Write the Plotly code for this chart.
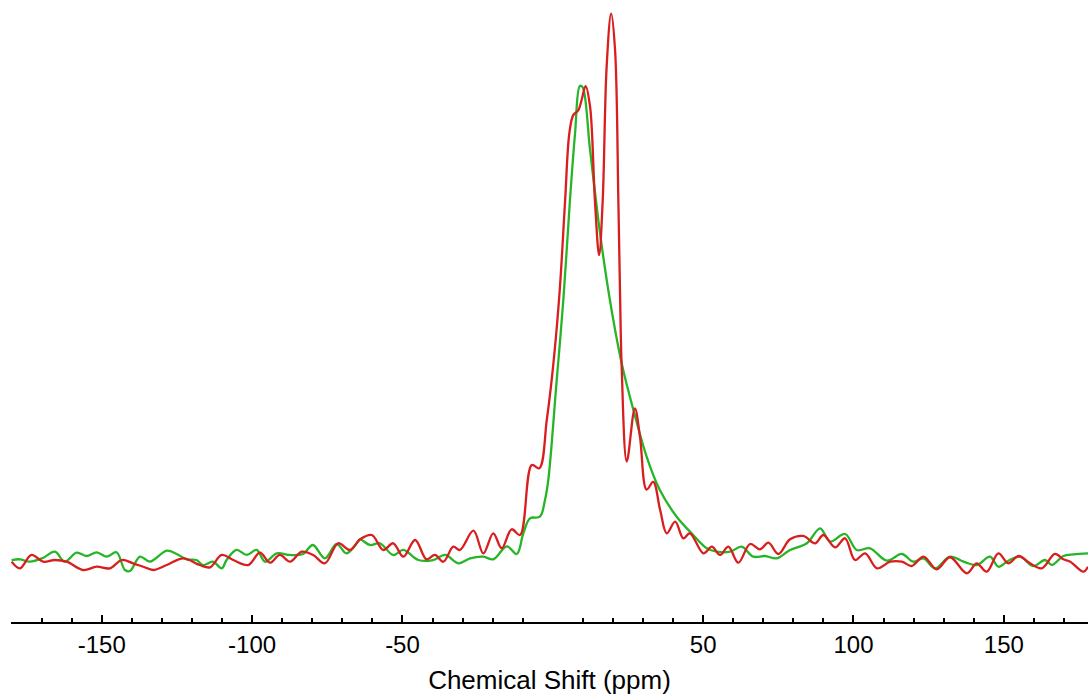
import plotly.graph_objects as go

# Green spectrum (chemical shift in ppm, intensity in arbitrary units)
ppm_green = [-180.0, -177.2, -173.9, -169.6, -165.6, -162.3, -158.4, -155.1, -151.7, -148.4,
             -145.1, -142.3, -140.6, -137.3, -134.0, -128.4, -125.1, -121.8, -118.5, -116.4,
             -113.0, -110.1, -108.5, -105.2, -101.8, -98.5, -95.7, -91.8, -87.4, -83.1,
             -79.8, -75.8, -71.9, -68.6, -64.8, -64.1, -60.8, -57.5, -53.1, -49.7,
             -44.7, -39.8, -35.8, -31.4, -27.5, -23.1, -19.8, -15.3, -12.0, -9.8,
             -7.6, -4.3, -2.6, -1.5, 1.3, 3.5, 5.7, 7.4, 9.0, 9.9,
             12.4, 15.7, 19.0, 22.9, 26.8, 31.2, 35.6, 41.2, 46.7, 51.2,
             54.5, 59.0, 62.8, 66.7, 70.6, 74.5, 78.9, 84.5, 88.9, 92.2,
             97.2, 101.1, 105.5, 111.1, 116.1, 119.9, 123.3, 127.1, 132.1, 136.6,
             141.0, 145.4, 148.2, 151.5, 155.4, 159.8, 163.7, 166.0, 169.8, 173.2, 178.0]
int_green = [0.36, 0.49, 0.05, 0.73, 1.88, 0.05, 1.69, 1.09, 1.77, 0.97,
             1.77, -1.46, -1.64, 0.97, 0.05, 2.06, 1.46, 0.49, 0.36, -0.55,
             0.05, -1.15, 0.36, 2.19, 1.28, 2.19, 0.05, 1.58, 1.28, 1.46,
             3.10, 0.67, 3.28, 1.58, 3.70, 4.13, 3.10, 3.41, 1.28, 2.19,
             0.36, 0.36, 1.28, -0.24, 0.67, 0.97, 0.49, 2.86, 1.46, 5.23,
             7.96, 8.25, 11.29, 14.94, 33.15, 47.7, 65.9, 78.1, 86.7, 86.5,
             75.0, 59.9, 47.7, 36.2, 27.7, 19.2, 13.1, 8.25, 4.92, 2.50,
             1.88, 1.88, 2.79, 0.97, 1.09, 0.67, 2.19, 3.41, 6.14, 3.70,
             5.10, 2.19, 2.50, 0.24, 1.46, 0.05, 0.67, -1.15, 0.97, 0.05,
             -0.55, 0.97, -0.86, 0.24, 0.97, -0.73, 0.36, -0.55, 1.09, 1.40, 1.58]

# Red spectrum
ppm_red = [-180.0, -177.2, -173.4, -169.5, -165.6, -161.7, -156.2, -151.7, -147.3, -143.4,
           -139.6, -136.2, -132.9, -128.4, -122.9, -117.4, -114.0, -110.1, -106.3, -101.3,
           -97.4, -94.1, -90.8, -87.4, -83.5, -79.7, -75.8, -71.4, -67.5, -64.1,
           -60.2, -56.4, -53.1, -49.7, -45.8, -42.0, -39.2, -36.4, -33.1, -30.9,
           -26.4, -23.1, -19.8, -17.0, -13.7, -10.9, -7.0, -4.5, -2.0, 0.2,
           2.3, 4.1, 5.5, 6.8, 8.5, 9.6, 10.9, 12.4, 14.0, 15.4,
           16.6, 17.9, 19.4, 20.7, 21.8, 22.4, 22.9, 24.6, 27.3, 29.0,
           31.2, 33.4, 35.7, 37.9, 40.7, 43.4, 45.6, 50.1, 52.9, 55.6,
           58.4, 61.7, 65.6, 68.9, 71.7, 75.0, 78.9, 83.3, 87.2, 90.0,
           93.9, 97.2, 100.5, 103.9, 107.8, 112.2, 116.1, 119.4, 123.3, 127.7,
           132.1, 137.7, 141.0, 144.3, 148.2, 151.5, 154.9, 158.7, 162.6, 167.0,
           169.8, 172.1, 176.5, 178.0]
int_red = [0.05, -1.15, 1.28, 0.05, 0.36, 0.05, -1.46, -0.86, -1.15, 0.36,
           -0.24, -0.86, -1.46, -0.55, 0.67, -0.55, -0.97, 1.28, 0.36, -0.55,
           1.69, -0.13, 1.28, 0.05, 1.88, 1.28, -0.24, 3.41, 2.19, 4.13,
           4.92, 2.19, 3.41, 0.97, 4.01, 0.49, 1.28, 0.05, 2.79, 2.19,
           5.70, 1.58, 5.23, 2.50, 5.96, 4.92, 17.67, 17.07, 25.87, 36.19,
           49.5, 65.9, 78.1, 81.4, 82.3, 84.2, 86.7, 82.9, 65.9, 55.9,
           65.9, 90.2, 99.9, 93.3, 65.9, 47.7, 35.6, 18.3, 28.0, 22.8,
           13.2, 14.6, 9.47, 5.23, 7.34, 4.32, 5.23, 1.58, 2.79, 1.28,
           2.79, -0.13, 3.28, 2.31, 3.52, 1.46, 4.13, 4.74, 3.41, 4.92,
           2.68, 4.32, 0.36, 1.58, -1.15, 0.05, 0.05, -0.73, 0.97, -1.33,
           0.86, -2.06, -0.24, -1.77, 1.58, -0.24, 1.09, -0.24, -1.15, 1.46,
           0.49, 0.05, -1.77, -0.86]

major_ticks = [-150, -100, -50, 50, 100, 150]
major_labels = ["-150", "-100", "-50", "50", "100", "150"]
minor_ticks = [v for v in range(-180, 180, 10) if v not in major_ticks and v != 0]

fig = go.Figure()
fig.add_trace(go.Scatter(x=ppm_green, y=int_green, mode="lines",
                         line=dict(color="#26b526", width=2.3, shape="spline", smoothing=1.0),
                         showlegend=False))
fig.add_trace(go.Scatter(x=ppm_red, y=int_red, mode="lines",
                         line=dict(color="#d81e1e", width=2.3, shape="spline", smoothing=1.0),
                         showlegend=False))

fig.update_layout(
    width=1088, height=695,
    margin=dict(l=11, r=0, t=0, b=73),
    paper_bgcolor="white", plot_bgcolor="white",
    font=dict(family="Liberation Sans, Arial, sans-serif", color="black"),
    xaxis=dict(
        range=[-180.2, 178],
        tickmode="array", tickvals=major_ticks, ticktext=major_labels,
        ticks="inside", ticklen=7, tickwidth=1.5, tickcolor="black",
        showline=True, linecolor="black", linewidth=1.5,
        showgrid=False, zeroline=False,
        tickfont=dict(size=24, color="black"),
        title=dict(text="Chemical Shift (ppm)", font=dict(size=26, color="black"), standoff=16),
        minor=dict(tickmode="array", tickvals=minor_ticks, ticks="inside", ticklen=4,
                   tickwidth=1.5, tickcolor="black", showgrid=False),
    ),
    yaxis=dict(range=[-10.93, 102.37], visible=False),
)

fig.write_html("out.html")
